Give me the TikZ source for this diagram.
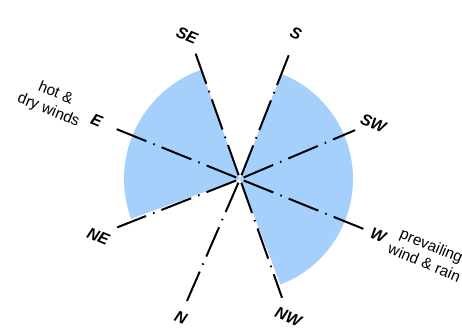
\documentclass[tikz,border=0pt]{standalone}
\usepackage{fontspec}
\setmainfont{Liberation Sans}
\definecolor{wedgeblue}{RGB}{166,208,252}
\begin{document}
\begin{tikzpicture}[x=1pt,y=1pt,
  ray/.style={line width=2pt, dash pattern=on 32pt off 7.5pt on 1.5pt off 7.5pt},
  dirlabel/.style={font=\fontsize{16}{19}\selectfont\bfseries\itshape, rotate=-22.5, inner sep=0pt},
  note/.style={font=\fontsize{15.5}{18.5}\selectfont, rotate=-22.5, align=center, inner sep=0pt}]
\path[use as bounding box] (0,0) rectangle (462,330);
\coordinate (c) at (240,151);
\fill[wedgeblue] (c) -- ++(109.5:116) arc[start angle=109.5, end angle=200, radius=116] -- cycle;
\fill[wedgeblue] (c) -- ++(-69:113) arc[start angle=-69, end angle=68.5, radius=113] -- cycle;
\foreach \n/\a/\l in {S/68.5/137, SE/109.5/135, E/158/136, NE/201.5/132, N/246.5/135, NW/-70.5/126, W/-22/133, SW/23/125}{
  \coordinate (r\n-a) at ([shift={(\a:4)}]c);
  \coordinate (r\n-b) at ([shift={(\a:\l)}]c);
  \draw[ray] (r\n-a) -- (r\n-b);
}
\node[dirlabel] (lSE) at (187,294.7) {SE};
\node[dirlabel] (lS) at (296,296.7) {S};
\node[dirlabel] (lSW) at (373.3,206.7) {SW};
\node[dirlabel] (lW) at (378.3,95) {W};
\node[dirlabel] (lNW) at (288.3,13.3) {NW};
\node[dirlabel] (lN) at (180.7,12.3) {N};
\node[dirlabel] (lNE) at (98.3,93.3) {NE};
\node[dirlabel] (lE) at (96.7,210) {E};
\node[note] (hot) at (52,228) {hot \&\\dry winds};
\node[note] (prev) at (428,76) {prevailing\\wind \& rain};
\end{tikzpicture}
\end{document}
